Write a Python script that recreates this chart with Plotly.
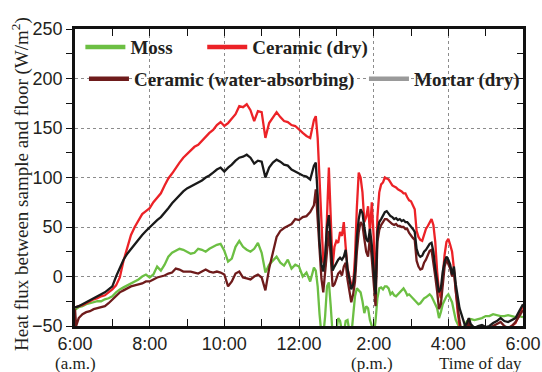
import numpy as np
import plotly.graph_objects as go

# ---------------- data ----------------
# sampling times (hours of day)
time_h = np.round(np.concatenate([
    [6.0, 6.03],
    np.arange(6.1, 12.41, 0.1),
    np.arange(12.45, 16.61, 0.05),
    np.arange(16.7, 18.01, 0.1),
]), 2)

ceramic_dry = [
    -31, -31, -30, -29, -27, -25, -23, -22, -20, -19,
    -16, -13, -9, -1, 16, 30, 42, 50, 57, 63,
    66, 69, 75, 79, 84, 92, 99, 104, 110, 115,
    120, 124, 128, 131, 133, 137, 142, 145, 148, 153,
    156, 152, 155, 160, 164, 172, 171, 174, 168, 157,
    167, 166, 140, 155, 160, 166, 161, 157, 156, 153,
    152, 148, 145, 142, 140, 158,
    162, 140, 100, 45, 15, 10, 60, 110, 60, 10,
    30, 36, 34, 45, 41, 55, 30, 8, 0, -8,
    -10, 20, 70, 105, 100, 85, 55, 60, 71, 45,
    75, 40, -18, 60, 85, 93, 95, 100, 99, 98,
    95, 92, 91, 90, 88, 87, 86, 84, 84, 80,
    77, 76, 71, 68, 46, 40, 37, 36, 42, 48,
    51, 55, 58, 52, 35, 5, -15, -22, 5, 22,
    35, 38, 32, 25, 8, -15, -36, -50, -58, -56,
    -60, -55, -42, -55,
    -56, -58, -55, -57, -55, -56, -55, -54, -55, -52, -50, -47, -38, -30,
]

mortar_dry = [
    -31, -31, -30, -28, -26, -24, -22, -20, -18, -16,
    -13, -10, 0, 9, 17, 23, 28, 33, 37, 42,
    46, 50, 54, 57, 60, 64, 69, 74, 78, 83,
    86, 89, 91, 93, 95, 97, 100, 102, 105, 108,
    110, 106, 110, 113, 117, 120, 121, 123, 120, 114,
    117, 116, 100, 110, 115, 118, 116, 113, 112, 108,
    106, 104, 102, 101, 98, 112,
    115, 82, 35, 12, 5, 20, 50, 62, 32, 6,
    10, 14, 17, 19, 17, 20, 27, 8, -5, -13,
    -8, 5, 40, 58, 68, 64, 50, 38, 35, 48,
    32, 10, -18, 45, 55, 58, 61, 65, 66, 63,
    61, 60, 58, 59, 57, 58, 56, 57, 55, 55,
    53, 51, 48, 45, 28, 22, 20, 21, 25, 27,
    30, 33, 34, 25, 8, -5, -16, -12, 5, 15,
    20, 17, 12, 2, 10, -8, -22, -32, -38, -45,
    -50, -47, -42, -48,
    -52, -50, -49, -51, -50, -47, -45, -42, -45, -46, -44, -42, -35, -28,
]

moss = [
    -33, -33, -31, -30, -28, -27, -26, -25, -25, -23,
    -22, -20, -16, -13, -11, -9, -7, -5, -3, 0,
    2, -1, 2, 10, 6, 12, 20, 24, 26, 28,
    27, 25, 23, 24, 28, 27, 25, 28, 30, 32,
    33, 26, 15, 18, 30, 36, 30, 27, 25, 28,
    34, 24, 4, 12, 16, 20, 14, 11, 17, 8,
    12, 10, 0, 4, -5, 9,
    6, -10, -38, -58, -60, -40, -10, -6, -30, -58,
    -60, -55, -42, -45, -55, -58, -45, -44, -55, -60,
    -40, -20, -12, -14, -16, -25, -37, -30, -32, -44,
    -50, -60, -45, -22, -12, -11, -13, -10, -10, -12,
    -18, -16, -19, -20, -18, -16, -14, -12, -15, -19,
    -18, -20, -21, -24, -26, -28, -27, -24, -22, -21,
    -19, -18, -20, -25, -28, -32, -42, -36, -28, -24,
    -20, -18, -22, -26, -35, -44, -48, -52, -55, -52,
    -48, -45, -44, -43,
    -44, -43, -42, -40, -40, -38, -39, -40, -40, -39, -40, -41, -40, -41,
]

ceramic_wet = [
    -33, -50, -42, -38, -36, -35, -33, -32, -31, -30,
    -27, -23, -19, -16, -14, -12, -10, -9, -8, -7,
    -5, -5, -3, -1, 0, 1, 3, 4, 8, 7,
    5, 5, 5, 4, 3, 5, 7, 5, 4, 5,
    4, 2, -10, -5, 3, 5, -1, -2, -3, 0,
    2, -1, -14, 8, 24, 40, 46, 49, 51, 53,
    58, 57, 60, 61, 65, 72,
    88, 60, 25, -2, -16, 5, 28, 46, 20, -10,
    -8, -3, 3, 5, 1, 10, 14, -3, -15, -26,
    -18, -5, 25, 45, 55, 52, 38, 25, 20, 40,
    18, -5, -30, 35, 47, 52, 55, 58, 58, 56,
    54, 53, 52, 53, 51, 51, 50, 50, 48, 48,
    44, 41, 39, 37, 16, 10, 7, 8, 14, 17,
    22, 26, 27, 15, 0, -15, -33, -28, -5, 10,
    17, 12, 8, 0, 5, -15, -32, -45, -55, -55,
    -58, -52, -45, -55,
    -56, -55, -54, -55, -52, -50, -48, -46, -50, -52, -50, -46, -40, -34,
]

for s in (ceramic_dry, mortar_dry, moss, ceramic_wet):
    assert len(s) == len(time_h), (len(s), len(time_h))

tick_hours = [6, 8, 10, 12, 14, 16, 18]
tick_labels = ["6:00", "8:00", "10:00", "12:00", "2:00", "4:00", "6:00"]

series_names = ["Moss", "Ceramic (dry)", "Ceramic (water-absorbing)", "Mortar (dry)"]

# ---------------- styling ----------------
GREEN = "#6cbf43"
RED = "#ec2227"
DARKRED = "#6e1b1b"
BLACK = "#1a1a1a"
GRAY = "#9a9a9a"
SANS = "Liberation Sans, Arial, sans-serif"
SERIF = "Liberation Serif, Times New Roman, serif"
TXT = "#231f20"

fig = go.Figure()

data_traces = [
    (moss, GREEN),
    (ceramic_dry, RED),
    (ceramic_wet, DARKRED),
    (mortar_dry, BLACK),
]
for vals, col in data_traces:
    fig.add_trace(go.Scatter(x=time_h, y=vals, mode="lines",
                             line=dict(color=col, width=2.3),
                             showlegend=False, hoverinfo="skip"))

legend_cols = [GREEN, RED, DARKRED, GRAY]
legend_ids = ["legend", "legend2", "legend3", "legend4"]
for name, col, lid in zip(series_names, legend_cols, legend_ids):
    fig.add_trace(go.Scatter(x=[None], y=[None], mode="lines", name=name,
                             line=dict(color=col, width=4.5),
                             legend=lid, yaxis="y2"))

leg_font = dict(family=SERIF, size=19, color=TXT, weight="bold")
leg_common = dict(bgcolor="rgba(0,0,0,0)", borderwidth=0, font=leg_font,
                  xanchor="left", yanchor="middle", itemwidth=40,
                  orientation="h")

note_font = dict(family=SERIF, size=17, color=TXT)

fig.update_layout(
    width=542, height=372,
    margin=dict(l=75, r=19, t=29, b=46),
    paper_bgcolor="white", plot_bgcolor="white",
    legend=dict(x=0.012, y=0.939, **leg_common),
    legend2=dict(x=0.284, y=0.939, **leg_common),
    legend3=dict(x=0.020, y=0.832, **leg_common),
    legend4=dict(x=0.645, y=0.832, **leg_common),
    xaxis=dict(
        range=[6, 18], tickvals=tick_hours, ticktext=tick_labels,
        ticks="inside", ticklen=7, tickwidth=1.3, tickcolor="#111",
        minor=dict(dtick=1, tick0=6, ticks="inside", ticklen=7, tickcolor="#111", showgrid=False),
        showgrid=True, gridcolor="#8c8c8c", griddash="dot", gridwidth=1,
        showline=True, linecolor="#111", linewidth=2.5, mirror="ticks",
        zeroline=False, automargin=False,
        tickfont=dict(family=SANS, size=18, color=TXT),
    ),
    yaxis=dict(
        range=[-50, 250], tick0=0, dtick=50,
        ticks="outside", ticklen=6, tickwidth=1.3, tickcolor="#111",
        minor=dict(dtick=25, tick0=0, ticks="outside", ticklen=6, tickcolor="#111", showgrid=False),
        showgrid=True, gridcolor="#8c8c8c", griddash="dot", gridwidth=1,
        showline=True, linecolor="#111", linewidth=2.5, mirror=True,
        zeroline=False, automargin=False,
        tickfont=dict(family=SANS, size=18, color=TXT),
    ),
    yaxis2=dict(
        overlaying="y", side="right", range=[-50, 250], tick0=0, dtick=25,
        ticks="inside", ticklen=6, tickwidth=1.3, tickcolor="#111",
        showticklabels=False, showgrid=False, zeroline=False, showline=False,
        automargin=False,
    ),
    annotations=[
        dict(text="Heat flux between sample and floor (W/m<sup>2</sup>)",
             x=-0.123, y=0.478, xref="paper", yref="paper", textangle=-90,
             showarrow=False, font=dict(family=SERIF, size=19, color=TXT),
             xanchor="center", yanchor="middle"),
        dict(text="(a.m.)", x=6, y=-0.125, xref="x", yref="paper",
             showarrow=False, font=note_font,
             xanchor="center", yanchor="middle"),
        dict(text="(p.m.)", x=13.95, y=-0.125, xref="x", yref="paper",
             showarrow=False, font=note_font,
             xanchor="center", yanchor="middle"),
        dict(text="Time of day", x=1.003, y=-0.127, xref="paper", yref="paper",
             showarrow=False, font=dict(family=SERIF, size=17, color=TXT),
             xanchor="right", yanchor="middle"),
    ],
)

fig.write_html("out.html")
